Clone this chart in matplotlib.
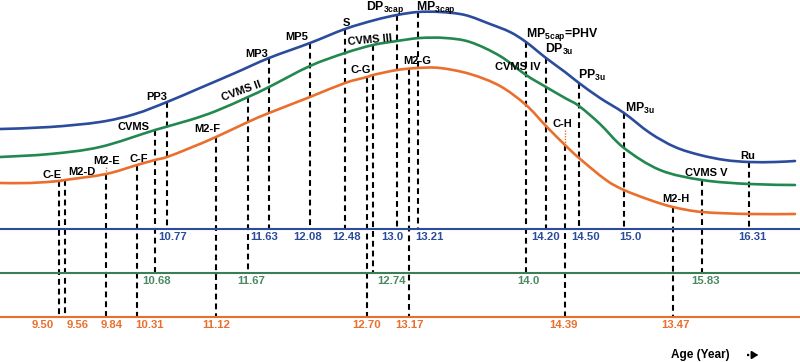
import matplotlib
matplotlib.use("Agg")
import matplotlib.pyplot as plt
from matplotlib.path import Path
from matplotlib.patches import PathPatch
import numpy as np

plt.rcParams["font.family"] = ["Liberation Sans", "DejaVu Sans"]
plt.rcParams["mathtext.fontset"] = "custom"
plt.rcParams["mathtext.rm"] = "Liberation Sans:bold"
plt.rcParams["mathtext.bf"] = "Liberation Sans:bold"
plt.rcParams["mathtext.it"] = "Liberation Sans:bold"

# Growth curves (horizontal position, height from top)
blue_curve_x = [0, 50, 100, 135, 167, 200, 235, 269, 310, 345, 375, 397, 418, 440,
                465, 490, 510, 526, 546, 565, 579, 600, 624, 650, 675, 700, 725, 749, 775, 795]
blue_curve_y = [129, 127, 122, 114, 102, 88, 73, 58, 43, 29, 20, 15, 12, 12,
                15, 24, 32, 42, 58, 72, 83, 98, 113, 133, 147, 155, 160, 162, 162, 161]

green_curve_x = [0, 50, 100, 155, 190, 216, 248, 269, 310, 345, 373, 397, 420, 445,
                 470, 500, 526, 546, 565, 579, 600, 624, 660, 702, 749, 795]
green_curve_y = [157, 154, 147, 130, 120, 111, 97, 87, 66, 53, 45, 41, 38, 38,
                 42, 56, 75, 87, 98, 106, 124, 148, 170, 180, 184, 185]

orange_curve_x = [0, 30, 59, 65, 106, 137, 155, 167, 190, 216, 248, 269, 310, 345,
                  367, 373, 397, 418, 440, 470, 500, 526, 546, 565, 579, 606, 624,
                  650, 673, 702, 749, 795]
orange_curve_y = [183, 183, 181, 180, 174, 165, 160, 157, 148, 137, 122, 113, 97, 83,
                  77, 75, 70, 68, 68, 74, 86, 105, 126, 145, 158, 180, 190,
                  200, 207, 212, 214, 214]

# Stages on each curve: name, schematic position, age (year)
blue_stage = ["PP3", "MP3", "MP5", "S", "DP$_{\\rm 3cap}$", "MP$_{\\rm 3cap}$",
              "DP$_{\\rm 3u}$", "PP$_{\\rm 3u}$", "MP$_{\\rm 3u}$", "Ru"]
blue_pos = [167, 269, 310, 345, 397, 418, 546, 579, 624, 749]
blue_age = ["10.77", "11.63", "12.08", "12.48", "13.0", "13.21",
            "14.20", "14.50", "15.0", "16.31"]

green_stage = ["CVMS", "CVMS II", "CVMS III", "CVMS IV", "CVMS V"]
green_pos = [155, 248, 373, 526, 702]
green_age = ["10.68", "11.67", "12.74", "14.0", "15.83"]

orange_stage = ["C-E", "M2-D", "M2-E", "C-F", "M2-F", "C-G", "M2-G", "C-H", "M2-H"]
orange_pos = [59, 65, 106, 137, 216, 367, 409, 565, 673]
orange_age = ["9.50", "9.56", "9.84", "10.31", "11.12", "12.70", "13.17", "14.39", "13.47"]

phv_label = "MP$_{\\rm 5cap}$=PHV"

# Layout: label offsets (dx, dy of text baseline) from the line top,
# value label dx, rotation
blue_lab_off = [(-10, -2), (-12, -1), (-13, -3), (1, -3), (-12, -5), (18, -2),
                (13, -5), (13, -4), (16, -1), (-1, -3)]
blue_val_dx = [6, -5, -2, 2, -5, 12, 0, 7, 6, 3]
green_lab_off = [(-21, 0), (-6, -3), (-3, -2), (-8, -5), (4, -4)]
green_lab_rot = [0, 20, 5, 0, 0]
green_val_dx = [2, 3, 19, 2, 3]
orange_lab_off = [(-7, -3), (17, -5), (1, -10), (2, -3), (-9, -5), (-6, -4),
                  (8, -5), (-3, -18), (3, -5)]
orange_val_dx = [-16, 13, 6, 13, 0, 0, 1, -2, 3]
orange_dotted = ["M2-E", "C-H"]

BLUE = "#2b4c9c"
GREEN = "#23884f"
GREEN_BASE = "#3b7d57"
GREEN_TXT = "#4a8a63"
ORANGE = "#ea6f2d"

base_y = {"blue": 229, "green": 273, "orange": 317}

fig = plt.figure(figsize=(8, 3.62), dpi=100)
ax = fig.add_axes([0, 0, 1, 1])
ax.set_xlim(0, 800)
ax.set_ylim(362, 0)
ax.axis("off")


def smooth_curve(xs, ys, color):
    """Smooth Bezier path through the read points (Catmull-Rom handles)."""
    p = np.column_stack([xs, ys]).astype(float)
    p_ext = np.vstack([p[0], p, p[-1]])
    verts = [p[0]]
    codes = [Path.MOVETO]
    for i in range(1, len(p_ext) - 2):
        p0, p1, p2, p3 = p_ext[i - 1], p_ext[i], p_ext[i + 1], p_ext[i + 2]
        verts += [p1 + (p2 - p0) / 6, p2 - (p3 - p1) / 6, p2]
        codes += [Path.CURVE4] * 3
    ax.add_patch(PathPatch(Path(verts, codes), fill=False, edgecolor=color,
                           lw=1.9, capstyle="round", zorder=2))


# Curves and baselines
smooth_curve(blue_curve_x, blue_curve_y, BLUE)
smooth_curve(green_curve_x, green_curve_y, GREEN)
smooth_curve(orange_curve_x, orange_curve_y, ORANGE)
ax.axhline(base_y["blue"], color=BLUE, lw=1.5)
ax.axhline(base_y["green"], color=GREEN_BASE, lw=1.5)
ax.axhline(base_y["orange"], color=ORANGE, lw=1.5)

dash_kw = dict(color="black", lw=1.5, dashes=(2.8, 1.9), zorder=1)
lab_kw = dict(fontweight="bold", ha="center", va="baseline")
val_kw = dict(fontsize=8.2, fontweight="bold", ha="center", va="center")


def label_size(name):
    # labels with subscripts are drawn a little larger, as in the figure
    return 8.8 if "$" in name else 8


def draw_group(stage, pos, age, cx, cy, base, lab_off, val_dx, txt_color,
               rot=None, top_cx=None, top_cy=None):
    for i, name in enumerate(stage):
        x = pos[i]
        y_curve = np.interp(x, cx, cy)
        y_top = y_curve
        if top_cx is not None and name == "CVMS IV":
            y_top = np.interp(x, top_cx, top_cy)
        ax.plot([x, x], [y_top, base], **dash_kw)
        dx, dy = lab_off[i]
        r = 0 if rot is None else rot[i]
        ax.text(x + dx, y_curve + dy, name, rotation=r, fontsize=label_size(name),
                rotation_mode="anchor", **lab_kw)
        if name in orange_dotted:
            ax.plot([x, x], [y_curve + dy + 3, y_curve - 2], color=ORANGE,
                    lw=1.0, ls=(0, (1, 1)))
        ax.text(x + val_dx[i], base + 8, age[i], color=txt_color, **val_kw)


draw_group(blue_stage, blue_pos, blue_age, blue_curve_x, blue_curve_y,
           base_y["blue"], blue_lab_off, blue_val_dx, BLUE)
draw_group(green_stage, green_pos, green_age, green_curve_x, green_curve_y,
           base_y["green"], green_lab_off, green_val_dx, GREEN_TXT,
           rot=green_lab_rot, top_cx=blue_curve_x, top_cy=blue_curve_y)
draw_group(orange_stage, orange_pos, orange_age, orange_curve_x, orange_curve_y,
           base_y["orange"], orange_lab_off, orange_val_dx, ORANGE)

# PHV shares the CVMS IV line and starts on the blue curve
phv_x = green_pos[green_stage.index("CVMS IV")]
ax.text(phv_x + 36, np.interp(phv_x, blue_curve_x, blue_curve_y) - 5,
        phv_label, fontsize=label_size(phv_label), **lab_kw)

# Axis caption with small arrow
ax.text(700, 355, "Age (Year)", fontsize=8.5, fontweight="bold",
        ha="center", va="center")
ax.plot([747, 753], [355, 355], color="black", lw=1.6, ls=(0, (1, 1)))
ax.annotate("", xy=(761, 355), xytext=(752, 355),
            arrowprops=dict(arrowstyle="-|>,head_length=0.35,head_width=0.22",
                            color="black", lw=1.4))

fig.savefig("out.png", dpi=100)
